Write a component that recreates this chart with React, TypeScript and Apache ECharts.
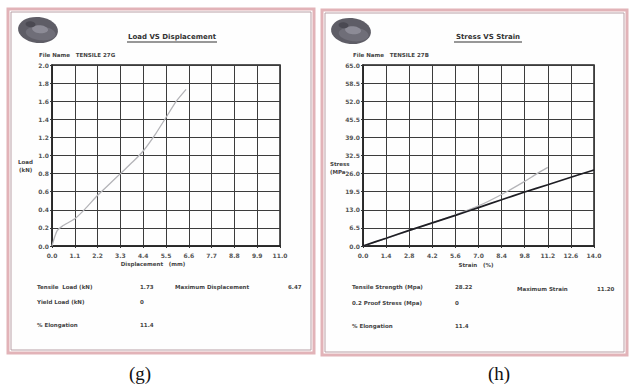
import React, { useEffect, useRef } from "react";
import * as echarts from "echarts";

// Load vs Displacement (g)
const dispMM = [0, 0.1, 0.25, 0.5, 1.1, 1.6, 2.2, 2.8, 3.3, 3.9, 4.4, 5.0, 5.5, 6.0, 6.47];
const loadKN = [0, 0.08, 0.17, 0.22, 0.3, 0.41, 0.56, 0.69, 0.8, 0.93, 1.05, 1.24, 1.42, 1.6, 1.73];

// Stress vs Strain (h)
const strainGray = [0, 1.4, 2.8, 4.2, 5.6, 7.0, 8.4, 9.8, 10.5, 11.2];
const stressGray = [0, 2.7, 5.5, 8.3, 11.2, 14.4, 18.5, 23.2, 25.8, 28.22];
const strainDark = [0, 1.4, 2.8, 4.2, 5.6, 7.0, 8.4, 9.8, 11.2, 12.6, 14.0];
const stressDark = [0, 2.8, 5.6, 8.3, 11.0, 13.8, 16.6, 19.4, 22.0, 24.7, 27.3];

// Result tables
const leftLabels = ["Tensile  Load (kN)", "Yield Load (kN)", "% Elongation"];
const leftValues = ["1.73", "0", "11.4"];
const leftExtra = ["Maximum Displacement", "6.47"];
const rightLabels = ["Tensile Strength (Mpa)", "0.2 Proof Stress (Mpa)", "% Elongation"];
const rightValues = ["28.22", "0", "11.4"];
const rightExtra = ["Maximum Strain", "11.20"];

const FONT = '"DejaVu Sans", sans-serif';

function txt(x: number, y: number, text: string, opts: any = {}) {
  return {
    type: "text",
    x,
    y,
    silent: true,
    style: {
      text,
      fill: opts.fill || "#444",
      fontSize: opts.size || 6,
      fontWeight: opts.weight || "bold",
      fontFamily: opts.family || FONT,
      align: opts.align || "left",
      verticalAlign: "middle",
      textAlign: opts.align || "left",
      textVerticalAlign: "middle",
    },
  };
}

function panel(x: number, y: number, w: number, h: number) {
  return [
    { type: "rect", shape: { x, y, width: w, height: h }, style: { fill: "#fff", stroke: "#e2b3b8", lineWidth: 3 } },
    { type: "rect", shape: { x: x + 3, y: y + 3, width: w - 6, height: h - 6 }, style: { fill: "#fefefe", stroke: "#b9a0a6", lineWidth: 1 } },
  ];
}

function logo(cx: number, cy: number) {
  return {
    type: "group",
    x: cx,
    y: cy,
    rotation: -0.1,
    children: [
      { type: "ellipse", shape: { cx: 0, cy: 0, rx: 20, ry: 13 }, style: { fill: "#5e5d66" } },
      { type: "ellipse", shape: { cx: 3, cy: 3, rx: 15, ry: 7 }, style: { fill: "#6f6e78" } },
      { type: "ellipse", shape: { cx: 2, cy: -1, rx: 8, ry: 4 }, style: { fill: "#8c8b96" } },
      { type: "ellipse", shape: { cx: -8, cy: -5, rx: 5, ry: 3 }, style: { fill: "#4a4952" } },
    ],
  };
}

const axisLabelStyle = { fontSize: 6, fontWeight: "bold" as const, color: "#555", fontFamily: FONT };

export default function App() {
  const ref = useRef<HTMLDivElement>(null);
  useEffect(() => {
    const chart = echarts.init(ref.current!, undefined, { renderer: "svg" });
    const splitLine = { show: true, lineStyle: { color: "#3c3c3c", width: 1 } };
    const axisLine = { show: true, onZero: false, lineStyle: { color: "#222", width: 1.5 } };
    const axisTick = { show: true, length: 2, lineStyle: { color: "#333" } };
    const option: any = {
      animation: false,
      backgroundColor: "#ffffff",
      grid: [
        { left: 52, top: 65, width: 228, height: 181, show: true, borderColor: "#222", borderWidth: 1.5 },
        { left: 363, top: 65, width: 231, height: 181, show: true, borderColor: "#222", borderWidth: 1.5 },
      ],
      xAxis: [
        {
          type: "value", gridIndex: 0, min: 0, max: 11, interval: 1.1,
          axisLine, axisTick, splitLine,
          axisLabel: { ...axisLabelStyle, margin: 6, formatter: (v: number) => v.toFixed(1) },
        },
        {
          type: "value", gridIndex: 1, min: 0, max: 14, interval: 1.4,
          axisLine, axisTick, splitLine,
          axisLabel: { ...axisLabelStyle, margin: 6, formatter: (v: number) => v.toFixed(1) },
        },
      ],
      yAxis: [
        {
          type: "value", gridIndex: 0, min: 0, max: 2, interval: 0.2,
          axisLine, axisTick, splitLine,
          axisLabel: { ...axisLabelStyle, margin: 3, formatter: (v: number) => v.toFixed(1) },
        },
        {
          type: "value", gridIndex: 1, min: 0, max: 65, interval: 6.5,
          axisLine, axisTick, splitLine,
          axisLabel: { ...axisLabelStyle, margin: 3, formatter: (v: number) => v.toFixed(1) },
        },
      ],
      series: [
        {
          type: "line", xAxisIndex: 0, yAxisIndex: 0, showSymbol: false, smooth: 0.2,
          lineStyle: { color: "#b4b4b8", width: 1.3 },
          data: dispMM.map((x, i) => [x, loadKN[i]]),
        },
        {
          type: "line", xAxisIndex: 1, yAxisIndex: 1, showSymbol: false, smooth: 0.2,
          lineStyle: { color: "#b4b4b8", width: 1.3 },
          data: strainGray.map((x, i) => [x, stressGray[i]]),
        },
        {
          type: "line", xAxisIndex: 1, yAxisIndex: 1, showSymbol: false, smooth: 0.2,
          lineStyle: { color: "#1e1e24", width: 1.7 },
          data: strainDark.map((x, i) => [x, stressDark[i]]),
        },
      ],
      graphic: {
        elements: [
          ...panel(8, 9, 306, 344).map((e) => ({ ...e, z: -10 })),
          ...panel(322, 10, 305, 345).map((e) => ({ ...e, z: -10 })),
          logo(38, 30),
          logo(351, 31),
          txt(172, 37, "Load VS Displacement", { size: 7, align: "center", fill: "#333" }),
          { type: "line", shape: { x1: 127, y1: 42, x2: 217, y2: 42 }, style: { stroke: "#333", lineWidth: 1 } },
          txt(488, 37, "Stress VS Strain", { size: 7, align: "center", fill: "#333" }),
          { type: "line", shape: { x1: 454, y1: 42, x2: 522, y2: 42 }, style: { stroke: "#333", lineWidth: 1 } },
          txt(39, 55, "File Name   TENSILE 27G", { size: 5.5 }),
          txt(353, 55, "File Name   TENSILE 27B", { size: 5.5 }),
          txt(18, 162, "Load", { size: 5.5 }),
          txt(19, 170, "(kN)", { size: 5.5 }),
          txt(330, 164, "Stress", { size: 5.5 }),
          txt(330, 172, "(MPa", { size: 5.5 }),
          txt(153, 264, "Displacement   (mm)", { size: 5.5, align: "center" }),
          txt(476, 265, "Strain   (%)", { size: 5.5, align: "center" }),
          ...leftLabels.map((t, i) => txt(37, [287, 302, 325][i], t, { size: 5.5 })),
          ...leftValues.map((t, i) => txt(140, [287, 302, 325][i], t, { size: 5.5 })),
          txt(175, 287, leftExtra[0], { size: 5.5 }),
          txt(288, 287, leftExtra[1], { size: 5.5 }),
          ...rightLabels.map((t, i) => txt(352, [287, 303, 326][i], t, { size: 5.5 })),
          ...rightValues.map((t, i) => txt(455, [287, 303, 326][i], t, { size: 5.5 })),
          txt(517, 289, rightExtra[0], { size: 5.5 }),
          txt(597, 289, rightExtra[1], { size: 5.5 }),
          txt(140, 373, "(g)", { size: 19, weight: "normal", family: '"Liberation Serif", serif', align: "center", fill: "#111" }),
          txt(499, 373, "(h)", { size: 19, weight: "normal", family: '"Liberation Serif", serif', align: "center", fill: "#111" }),
        ],
      },
    };
    chart.setOption(option);
    return () => chart.dispose();
  }, []);
  return (
    <div
      ref={ref}
      style={{ position: "fixed", left: 0, top: 0, width: 629, height: 387, background: "#fff" }}
    />
  );
}
